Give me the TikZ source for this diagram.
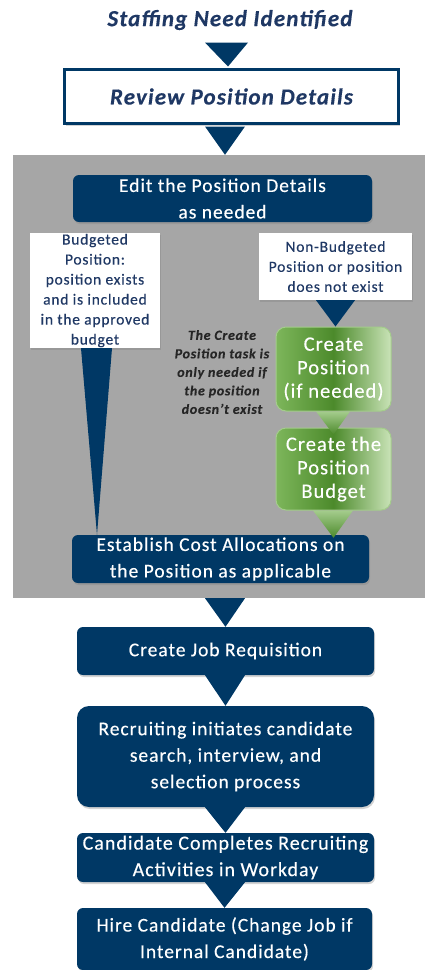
\documentclass[tikz,border=0pt]{standalone}
\usepackage{fontspec}
\setmainfont{Carlito}
\newfontfamily\boxfont[Ligatures=TeX, LetterSpace=5, FakeBold=0.3]{Carlito}
\usetikzlibrary{calc,shadows}

\definecolor{navy}{HTML}{003865}
\definecolor{titleblue}{HTML}{1F3864}
\definecolor{panelgrey}{HTML}{A6A6A6}
\definecolor{leafgreen}{HTML}{7DB65B}
\definecolor{darkleaf}{HTML}{4C8A2B}
\definecolor{paleleaf}{HTML}{C9E3B7}

\tikzset{
  softshadow/.style={drop shadow={opacity=0.35,shadow xshift=1pt,shadow yshift=-2pt}},
  stepbox/.style={fill=navy, rounded corners=6pt, text=white, align=center,
    minimum width=297pt, inner sep=0pt, softshadow,
    font=\boxfont\fontsize{19.5}{26.5}\selectfont},
  casebox/.style={fill=white, text=titleblue, align=center, inner sep=0pt,
    softshadow, font=\boxfont\fontsize{15.5}{20}\selectfont},
  greenbox/.style={draw=leafgreen!70!white, line width=1pt, rounded corners=10pt,
    left color=leafgreen, right color=paleleaf, middle color=darkleaf,
    text=white, align=center, minimum width=115pt, inner sep=0pt,
    font=\boxfont\fontsize{20.5}{23.5}\selectfont},
  greentip/.style={top color=leafgreen!70!white, bottom color=darkleaf},
  headline/.style={font=\boxfont\bfseries\itshape\fontsize{23}{26}\selectfont, text=titleblue}
}

\begin{document}
\begin{tikzpicture}[x=1pt, y=-1pt]
    \useasboundingbox (0,0) rectangle (425,970);

    % start and review
    \node[headline] (title) at (230,20) {Staffing Need Identified};
    \node[headline, draw=navy, line width=3pt, fill=white, minimum width=334pt, minimum height=54pt,
          softshadow] (review) at (231.5,96.5) {Review Position Details};

    % grey panel with the position steps
    \node[fill=panelgrey, minimum width=412pt, minimum height=443pt, inner sep=0pt] (panel) at (219,376.5) {};
    \node[stepbox, minimum width=299pt, minimum height=47pt] (edit) at (222.5,198.5) {Edit the Position Details\\as needed};
    \node[casebox, minimum width=130pt, minimum height=115pt] (budg) at (95,290.5) {Budgeted\\Position:\\position exists\\and is included\\in the approved\\budget};
    \node[casebox, minimum width=153pt, minimum height=67pt] (nonbudg) at (335.5,266.5) {Non-Budgeted\\Position or position\\does not exist};
    \node[font=\boxfont\bfseries\itshape\fontsize{14}{18.5}\selectfont, text=black!85, align=center] (note) at (222,372) {The Create\\Position task is\\only needed if\\the position\\doesn't exist};
    \node[greenbox, minimum height=84pt] (green1) at (333.5,369) {Create\\Position\\(if needed)};
    \node[greenbox, minimum height=82pt] (green2) at (333.5,469) {Create the\\Position\\Budget};
    \node[stepbox, minimum height=48pt] (establish) at (220.5,559) {Establish Cost Allocations on\\the Position as applicable};

    % recruiting steps
    \node[stepbox, minimum height=48pt] (job) at (225.5,651) {Create Job Requisition};
    \node[stepbox, minimum height=101pt, rounded corners=12pt] (recruit) at (225.5,756.5) {Recruiting initiates candidate\\search, interview, and\\selection process};
    \node[stepbox, minimum height=49pt, font=\boxfont\fontsize{20}{26.5}\selectfont] (cand) at (225.5,857.5) {Candidate Completes Recruiting\\Activities in Workday};
    \node[stepbox, minimum width=295pt, minimum height=62pt] (hire) at (224.5,939) {Hire Candidate (Change Job if\\Internal Candidate)};

    % chevrons
    \fill[navy] ($(title.south)+(-25,9)$) -- ++(43,0) -- ($(review.north)+(-3.5,-1.5)$) -- cycle;
    \fill[navy] ($(review.south)+(-26.5,1.5)$) -- ++(40,0) -- ($(review.south |- panel.north)+(-6.5,0)$) -- cycle;
    \fill[navy] ($(nonbudg.south)+(-19.5,0)$) -- ++(39,0) -- (nonbudg.south |- green1.north) -- cycle;
    \fill[navy] ($(budg.south)+(-14,0)$) -- ++(31,0) -- ($(budg.south |- establish.north)+(2,0)$) -- cycle;
    \shade[greentip] ($(green1.south)+(-17.5,0)$) -- ++(34,0) -- ($(green1.south |- green2.north)+(0,7)$) -- cycle;
    \shade[greentip] ($(green2.south)+(-20.5,0)$) -- ++(40,0) -- ($(green2.south |- establish.north)+(0,3)$) -- cycle;
    \fill[navy] ($(panel.south -| job.north)+(-20.5,0)$) -- ++(40,0) -- (job.north) -- cycle;
    \fill[navy] ($(job.south)+(-20.5,0)$) -- ++(40,0) -- (recruit.north) -- cycle;
    \fill[navy] ($(recruit.south)+(-20.5,0)$) -- ++(40,0) -- (cand.north) -- cycle;
    \fill[navy] ($(cand.south)+(-20.5,0)$) -- ++(40,0) -- (hire.north) -- cycle;
\end{tikzpicture}
\end{document}
